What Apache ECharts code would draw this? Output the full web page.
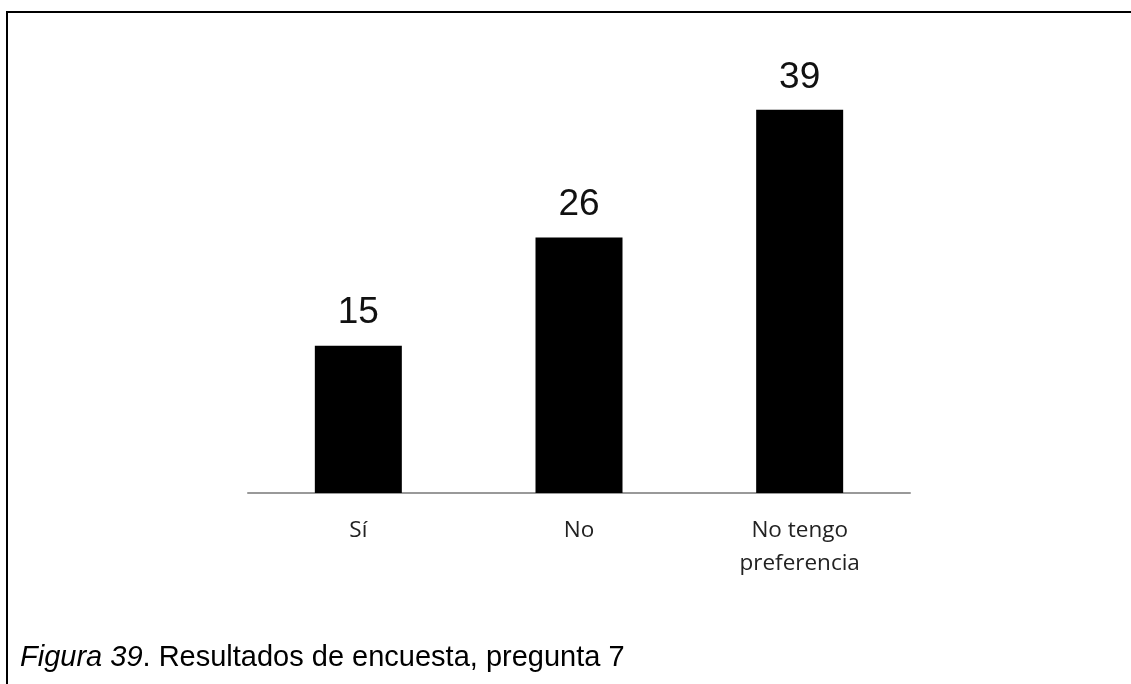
<!DOCTYPE html>
<html>
<head>
<meta charset="utf-8">
<script src="https://cdn.jsdelivr.net/npm/echarts@6/dist/echarts.min.js"></script>
<style>
  html, body { margin: 0; padding: 0; background: #fff; }
  #chart { width: 1131px; height: 684px; }
</style>
</head>
<body>
<div id="chart"></div>
<script>
// respuestas de la pregunta 7
const categorias = ['Sí', 'No', 'No tengo\npreferencia'];
const valores = [15, 26, 39];

const chartDom = document.getElementById('chart');
const myChart = echarts.init(chartDom);

const option = {
  animation: false,
  backgroundColor: '#fff',
  grid: {
    left: 248,
    right: 221,
    top: 100,
    bottom: 191
  },
  xAxis: {
    type: 'category',
    data: categorias,
    axisLine: { lineStyle: { color: '#999', width: 2 } },
    axisTick: { show: false },
    axisLabel: {
      color: '#222',
      fontFamily: 'Open Sans',
      fontSize: 22.5,
      lineHeight: 33,
      margin: 21
    }
  },
  yAxis: {
    type: 'value',
    min: 0,
    max: 40,
    show: false,
    splitLine: { show: false }
  },
  series: [
    {
      type: 'bar',
      data: valores,
      barWidth: 87,
      itemStyle: { color: '#000' },
      label: {
        show: true,
        position: 'top',
        distance: 14,
        color: '#111',
        fontFamily: 'Liberation Sans',
        fontSize: 37
      }
    }
  ],
  graphic: [
    {
      type: 'line',
      shape: { x1: 6, y1: 12, x2: 1131, y2: 12 },
      style: { stroke: '#000', lineWidth: 2 }
    },
    {
      type: 'line',
      shape: { x1: 7, y1: 11, x2: 7, y2: 684 },
      style: { stroke: '#000', lineWidth: 2 }
    },
    {
      type: 'text',
      left: 20,
      top: 643,
      style: {
        text: '{it|Figura 39}{n|. Resultados de encuesta, pregunta 7}',
        rich: {
          it: { fontStyle: 'italic', fontFamily: 'Liberation Sans', fontSize: 29, fill: '#000' },
          n: { fontFamily: 'Liberation Sans', fontSize: 29, fill: '#000' }
        }
      }
    }
  ]
};

option && myChart.setOption(option);
</script>
</body>
</html>
